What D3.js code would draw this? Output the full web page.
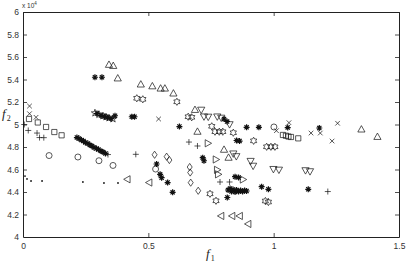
<!DOCTYPE html>
<html>
<head>
<meta charset="utf-8">
<script src="https://cdn.jsdelivr.net/npm/d3@7"></script>
<style>
  html, body { margin: 0; padding: 0; background: #fff; }
  svg { display: block; }
  .tick text { font-family: 'Liberation Sans', Arial, sans-serif; font-size: 8.5px; fill: #333; }
</style>
</head>
<body>
<svg id="chart"></svg>
<script>
// values, as [f1, f2 (x 10^4)]
const dotPts = [[0.008, 4.542], [0.016, 4.516], [0.032, 4.498], [0.076, 4.498], [0.239, 4.489], [0.323, 4.480], [0.379, 4.480]];
const circlePts = [[0.104, 4.724], [0.219, 4.711], [0.303, 4.678], [0.359, 4.636], [0.529, 4.604], [1.001, 4.978]];
const squarePts = [[0.024, 5.049], [0.059, 5.018], [0.092, 4.978], [0.125, 4.933], [0.154, 4.904],
  [1.037, 4.907], [1.049, 4.900], [1.059, 4.893], [1.069, 4.889], [1.098, 4.877]];
const crossPts = [[0.026, 5.164], [0.026, 5.096], [0.052, 5.064], [0.541, 5.049], [1.011, 4.945],
  [1.061, 5.016], [1.149, 4.924], [1.186, 4.924], [1.233, 4.853], [1.255, 5.011]];
const plusPts = [[0.005, 5.000], [0.021, 4.947], [0.056, 4.924], [0.066, 4.884], [0.083, 4.883], [0.339, 4.733],
  [0.450, 4.735], [0.662, 4.844], [0.696, 4.809], [0.786, 4.489], [0.824, 4.489], [1.216, 4.404]];
const starPts = [
  // long diagonal run
  [0.215, 4.884], [0.223, 4.876], [0.233, 4.862], [0.241, 4.853], [0.249, 4.840], [0.259, 4.831], [0.267, 4.818],
  [0.275, 4.809], [0.283, 4.796], [0.293, 4.787], [0.301, 4.778], [0.311, 4.764], [0.319, 4.756], [0.329, 4.742],
  // upper run
  [0.295, 5.098], [0.311, 5.080], [0.325, 5.071], [0.337, 5.062], [0.351, 5.053], [0.367, 5.078],
  [0.287, 5.420], [0.315, 5.420], [0.434, 5.069], [0.445, 5.069], [0.624, 4.982],
  [0.802, 5.049], [0.814, 5.027], [0.892, 4.975], [0.941, 4.975], [1.056, 4.973], [1.182, 4.969],
  [0.852, 4.858], [0.864, 4.853],
  [0.533, 4.649], [0.547, 4.557], [0.553, 4.527], [0.577, 4.484], [0.597, 4.397],
  [0.717, 4.705], [0.722, 4.678], [0.846, 4.536], [0.860, 4.529], [0.815, 4.351],
  [0.952, 4.447], [0.979, 4.424], [1.138, 4.424],
  // dense clump
  [0.818, 4.418], [0.826, 4.431], [0.832, 4.404], [0.838, 4.422], [0.846, 4.400], [0.852, 4.418],
  [0.860, 4.404], [0.868, 4.413], [0.876, 4.404], [0.884, 4.413], [0.892, 4.409]];
const pentaPts = [[0.287, 5.102], [0.303, 5.089], [0.319, 5.076], [0.331, 5.067], [0.343, 5.058], [0.359, 5.049]];
const hexaPts = [[0.454, 5.233], [0.478, 5.224], [0.614, 5.202], [0.659, 5.069], [0.673, 5.064], [0.753, 4.984],
  [0.766, 4.936], [0.783, 4.936], [0.797, 4.936], [0.839, 4.927], [0.920, 4.855], [0.972, 4.802], [0.989, 4.802],
  [1.005, 4.802], [0.746, 4.384], [0.770, 4.322], [0.967, 4.320], [0.979, 4.311]];
const triUpPts = [[0.343, 5.533], [0.360, 5.523], [0.378, 5.412], [0.470, 5.358], [0.516, 5.342], [0.549, 5.322],
  [0.566, 5.322], [0.600, 5.278], [0.686, 5.132], [0.696, 4.938], [0.802, 4.778], [0.820, 4.707], [1.350, 4.958], [1.414, 4.892]];
const triDownPts = [[0.711, 5.129], [0.722, 5.069], [0.739, 5.067], [0.775, 5.069], [0.791, 5.058], [0.824, 5.000],
  [0.839, 4.740], [0.851, 4.716], [0.908, 4.674], [0.918, 4.631], [0.999, 4.602], [1.021, 4.596], [1.127, 4.591], [1.145, 4.582]];
const triLeftPts = [[0.416, 4.513], [0.503, 4.484], [0.790, 4.187], [0.834, 4.187], [0.864, 4.187], [0.898, 4.116]];
const triRightPts = [[0.738, 4.833], [0.770, 4.689], [0.775, 4.597], [0.779, 4.557], [0.878, 4.511]];
const diamondPts = [[0.525, 4.731], [0.573, 4.714], [0.584, 4.684], [0.665, 4.622], [0.667, 4.573], [0.669, 4.483], [0.699, 4.411]];

const xTicks = [0, 0.5, 1, 1.5];
const yTicks = [4, 4.2, 4.4, 4.6, 4.8, 5, 5.2, 5.4, 5.6, 5.8, 6];

const series = [
  {pts: dotPts, marker: '.'}, {pts: circlePts, marker: 'o'}, {pts: squarePts, marker: 's'},
  {pts: crossPts, marker: 'x'}, {pts: plusPts, marker: '+'}, {pts: starPts, marker: '*'},
  {pts: pentaPts, marker: 'p'}, {pts: hexaPts, marker: 'h'}, {pts: triUpPts, marker: '^'},
  {pts: triDownPts, marker: 'v'}, {pts: triLeftPts, marker: '<'}, {pts: triRightPts, marker: '>'},
  {pts: diamondPts, marker: 'd'}
];

const width = 406, height = 266;
const svg = d3.select('#chart').attr('width', width).attr('height', height);

const x = d3.scaleLinear().domain([0, 1.5]).range([23, 399]);
const y = d3.scaleLinear().domain([4, 6]).range([237, 12]);

// star outline with n points
function starPath(n, R, r) {
  let p = '';
  for (let i = 0; i < 2 * n; i++) {
    const a = -Math.PI / 2 + i * Math.PI / n;
    const rad = i % 2 ? r : R;
    p += (i ? 'L' : 'M') + (rad * Math.cos(a)).toFixed(2) + ',' + (rad * Math.sin(a)).toFixed(2);
  }
  return p + 'Z';
}

function markerPath(m) {
  switch (m) {
    case 'o': return 'M3,0A3,3 0 1,1 -3,0A3,3 0 1,1 3,0Z';
    case 's': return 'M-2.6,-2.6L2.6,-2.6L2.6,2.6L-2.6,2.6Z';
    case 'd': return 'M0,-3.6L2.5,0L0,3.6L-2.5,0Z';
    case '^': return 'M0,-3.6L3.6,2.8L-3.6,2.8Z';
    case 'v': return 'M0,3.6L3.6,-2.8L-3.6,-2.8Z';
    case '<': return 'M-3.6,0L2.8,-3.6L2.8,3.6Z';
    case '>': return 'M3.6,0L-2.8,-3.6L-2.8,3.6Z';
    case 'x': return 'M-2.3,-2.3L2.3,2.3M-2.3,2.3L2.3,-2.3';
    case '+': return 'M-3,0L3,0M0,-3L0,3';
    case '*': return 'M-3,0L3,0M0,-3L0,3M-2.1,-2.1L2.1,2.1M-2.1,2.1L2.1,-2.1';
    case 'p': return starPath(5, 3.8, 1.5);
    case 'h': return starPath(6, 3.6, 2.1);
  }
}

// axes, ticks pointing inward
const gx = svg.append('g').attr('transform', 'translate(0,237)')
  .call(d3.axisBottom(x).tickValues(xTicks).tickSizeInner(-4).tickSizeOuter(0).tickPadding(6)
    .tickFormat(d3.format('')));
const gxTop = svg.append('g').attr('transform', 'translate(0,12)')
  .call(d3.axisTop(x).tickValues(xTicks).tickSizeInner(-4).tickSizeOuter(0).tickFormat(''));
const gy = svg.append('g').attr('transform', 'translate(23,0)')
  .call(d3.axisLeft(y).tickValues(yTicks).tickSizeInner(-4).tickSizeOuter(0).tickPadding(4)
    .tickFormat(d3.format('')));
const gyRight = svg.append('g').attr('transform', 'translate(399,0)')
  .call(d3.axisRight(y).tickValues(yTicks).tickSizeInner(-4).tickSizeOuter(0).tickFormat(''));

[gx, gxTop, gy, gyRight].forEach(g => {
  g.select('.domain').attr('stroke', '#222').attr('stroke-width', 1);
  g.selectAll('.tick line').attr('stroke', '#222').attr('stroke-width', 0.8);
});
gy.selectAll('.tick').filter(d => d === 6 || d === 4).select('line').remove();

// markers
series.forEach(s => {
  const g = svg.append('g');
  if (s.marker === '.') {
    g.selectAll('circle').data(s.pts).enter().append('circle')
      .attr('cx', d => x(d[0])).attr('cy', d => y(d[1]))
      .attr('r', 0.9).attr('fill', '#111');
  } else {
    g.selectAll('path').data(s.pts).enter().append('path')
      .attr('transform', d => 'translate(' + x(d[0]) + ',' + y(d[1]) + ')')
      .attr('d', markerPath(s.marker))
      .attr('fill', 'none')
      .attr('stroke', '#111')
      .attr('stroke-width', s.marker === '*' ? 1.2 : 0.7);
  }
});

// exponent note
const note = svg.append('text').attr('x', 22).attr('y', 8)
  .style('font-family', "'Liberation Sans', Arial, sans-serif").style('font-size', '6.5px').attr('fill', '#333');
note.append('tspan').text('x 10');
note.append('tspan').attr('dy', -3).style('font-size', '4.5px').text('4');

// axis labels
function axisLabel(px, py, sub) {
  const t = svg.append('text').attr('x', px).attr('y', py)
    .style('font-family', "'Liberation Serif', 'DejaVu Serif', serif").attr('fill', '#222');
  t.append('tspan').style('font-style', 'italic').style('font-size', '13px').text('f');
  t.append('tspan').attr('dy', 3).attr('dx', 1).style('font-size', '8px').text(sub);
}
axisLabel(206, 258, '1');
axisLabel(2, 118, '2');
</script>
</body>
</html>
